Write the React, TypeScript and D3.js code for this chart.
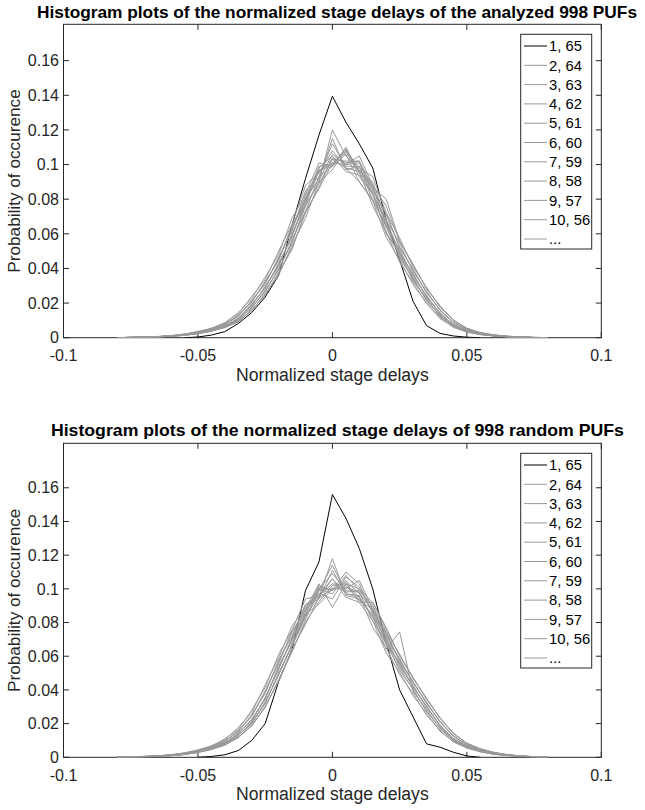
import React from "react";
import * as d3 from "d3";

// ---------- data ----------
const binsX = [-0.08, -0.075, -0.07, -0.065, -0.06, -0.055, -0.05, -0.045, -0.04, -0.035, -0.03, -0.025, -0.02, -0.015, -0.01, -0.005, 0, 0.005, 0.01, 0.015, 0.02, 0.025, 0.03, 0.035, 0.04, 0.045, 0.05, 0.055, 0.06, 0.065, 0.07, 0.075, 0.08];

const blackTopX = [-0.055, -0.05, -0.045, -0.04, -0.035, -0.03, -0.025, -0.02, -0.015, -0.01, -0.005, 0, 0.005, 0.01, 0.015, 0.02, 0.025, 0.03, 0.035, 0.04, 0.045, 0.05, 0.055];
const blackTopY = [0, 0.0004, 0.0015, 0.0035, 0.0082, 0.0145, 0.0235, 0.036, 0.065, 0.092, 0.117, 0.1395, 0.1245, 0.112, 0.098, 0.068, 0.045, 0.021, 0.007, 0.0025, 0.001, 0.0003, 0];

const blackBottomX = [-0.05, -0.045, -0.04, -0.035, -0.03, -0.025, -0.02, -0.015, -0.01, -0.005, 0, 0.005, 0.01, 0.015, 0.02, 0.025, 0.03, 0.035, 0.04, 0.045, 0.05, 0.055];
const blackBottomY = [0, 0.0005, 0.0015, 0.004, 0.01, 0.02, 0.045, 0.064, 0.099, 0.116, 0.156, 0.142, 0.124, 0.1, 0.068, 0.04, 0.024, 0.008, 0.006, 0.003, 0.0008, 0];

const greyTop1 = [0, 0.0002, 0.0004, 0.0007, 0.0012, 0.0022, 0.0033, 0.0056, 0.0083, 0.0146, 0.0225, 0.035, 0.048, 0.069, 0.083, 0.101, 0.099, 0.106, 0.09, 0.079, 0.058, 0.045, 0.0305, 0.0205, 0.011, 0.0063, 0.0031, 0.0019, 0.0009, 0.0005, 0.0002, 0.0001, 0];
const greyTop2 = [0.0001, 0.0002, 0.0003, 0.0007, 0.0011, 0.002, 0.0037, 0.0052, 0.0088, 0.0138, 0.0238, 0.0335, 0.05, 0.0655, 0.088, 0.095, 0.108, 0.098, 0.096, 0.076, 0.061, 0.0435, 0.032, 0.0195, 0.0118, 0.0059, 0.0035, 0.0017, 0.0011, 0.0006, 0.0003, 0.0001, 0];
const greyTop3 = [0, 0.0001, 0.0004, 0.0006, 0.0011, 0.0018, 0.003, 0.0051, 0.0075, 0.013, 0.0205, 0.0325, 0.0445, 0.065, 0.08, 0.099, 0.1, 0.109, 0.093, 0.083, 0.061, 0.048, 0.033, 0.0225, 0.0124, 0.007, 0.0036, 0.0021, 0.001, 0.0006, 0.0002, 0, 0];
const greyTop4 = [0, 0.0003, 0.0003, 0.0005, 0.001, 0.002, 0.0034, 0.0048, 0.008, 0.0122, 0.0215, 0.0308, 0.0465, 0.0615, 0.085, 0.093, 0.112, 0.099, 0.099, 0.079, 0.065, 0.046, 0.0345, 0.0215, 0.013, 0.0066, 0.0038, 0.0019, 0.0012, 0.0005, 0.0003, 0.0001, 0];
const greyTop5 = [0, 0.0002, 0.0003, 0.0006, 0.0009, 0.0019, 0.0031, 0.005, 0.0078, 0.0128, 0.0208, 0.032, 0.045, 0.064, 0.079, 0.098, 0.105, 0.096, 0.094, 0.084, 0.06, 0.049, 0.0328, 0.0228, 0.0122, 0.0069, 0.0036, 0.002, 0.0011, 0.0006, 0.0003, 0.0001, 0];
const greyTop6 = [0, 0.0002, 0.0002, 0.0006, 0.001, 0.0017, 0.0029, 0.0043, 0.007, 0.0108, 0.0195, 0.0285, 0.043, 0.058, 0.081, 0.091, 0.106, 0.1, 0.101, 0.083, 0.068, 0.049, 0.037, 0.0235, 0.0145, 0.0073, 0.0041, 0.0022, 0.0012, 0.0006, 0.0003, 0.0001, 0];
const greyTop7 = [0, 0.0001, 0.0003, 0.0005, 0.0011, 0.0016, 0.0027, 0.0046, 0.0066, 0.0113, 0.0185, 0.0296, 0.0412, 0.06, 0.077, 0.097, 0.099, 0.11, 0.095, 0.087, 0.064, 0.051, 0.035, 0.0245, 0.0136, 0.0078, 0.0039, 0.0023, 0.0012, 0.0007, 0.0002, 0.0001, 0];
const greyTop8 = [0, 0.0002, 0.0003, 0.0006, 0.001, 0.0018, 0.0028, 0.0044, 0.0069, 0.0109, 0.0192, 0.0288, 0.0425, 0.0585, 0.08, 0.092, 0.115, 0.097, 0.099, 0.082, 0.067, 0.0485, 0.0365, 0.0238, 0.0142, 0.0074, 0.004, 0.0022, 0.0012, 0.0006, 0.0003, 0.0001, 0];
const greyTop9 = [0, 0.0002, 0.0003, 0.0006, 0.001, 0.0017, 0.0028, 0.0045, 0.0067, 0.0111, 0.0188, 0.0292, 0.0418, 0.0595, 0.078, 0.096, 0.101, 0.107, 0.096, 0.088, 0.065, 0.0505, 0.0355, 0.0242, 0.0139, 0.0076, 0.004, 0.0022, 0.0012, 0.0006, 0.0003, 0.0001, 0];
const greyTop10 = [0, 0.0001, 0.0003, 0.0005, 0.0009, 0.0016, 0.0025, 0.0041, 0.0065, 0.01, 0.0178, 0.0265, 0.04, 0.055, 0.077, 0.089, 0.103, 0.102, 0.102, 0.085, 0.072, 0.052, 0.0395, 0.026, 0.0163, 0.0087, 0.0048, 0.0026, 0.0014, 0.0008, 0.0004, 0.0001, 0];
const greyTop11 = [0, 0.0002, 0.0002, 0.0005, 0.0009, 0.0015, 0.0027, 0.0043, 0.0062, 0.0104, 0.017, 0.0275, 0.0388, 0.0565, 0.073, 0.093, 0.099, 0.109, 0.096, 0.09, 0.068, 0.0545, 0.038, 0.027, 0.0157, 0.009, 0.0046, 0.0027, 0.0014, 0.0007, 0.0003, 0.0002, 0];
const greyTop12 = [0, 0.0001, 0.0003, 0.0006, 0.0009, 0.0016, 0.0026, 0.0042, 0.0064, 0.0101, 0.0176, 0.0268, 0.0398, 0.0548, 0.076, 0.09, 0.12, 0.105, 0.097, 0.086, 0.071, 0.0525, 0.0392, 0.0262, 0.0161, 0.0088, 0.0047, 0.0026, 0.0014, 0.0008, 0.0003, 0.0001, 0];
const greyTop13 = [0, 0.0001, 0.0002, 0.0004, 0.0008, 0.0014, 0.0024, 0.0037, 0.006, 0.009, 0.0162, 0.0245, 0.0375, 0.051, 0.073, 0.086, 0.101, 0.1, 0.105, 0.088, 0.076, 0.0555, 0.0425, 0.0283, 0.0185, 0.0099, 0.0055, 0.0029, 0.0016, 0.0009, 0.0004, 0.0002, 0];
const greyTop14 = [0, 0.0001, 0.0002, 0.0005, 0.0008, 0.0013, 0.0024, 0.0039, 0.0058, 0.0095, 0.0155, 0.0255, 0.036, 0.0535, 0.069, 0.09, 0.097, 0.108, 0.098, 0.093, 0.072, 0.0575, 0.0408, 0.0292, 0.0176, 0.0103, 0.0053, 0.003, 0.0016, 0.0008, 0.0004, 0.0001, 0];
const greyTop15 = [0, 0.0001, 0.0003, 0.0004, 0.0008, 0.0014, 0.0023, 0.0038, 0.006, 0.0092, 0.016, 0.0248, 0.0372, 0.0518, 0.072, 0.087, 0.104, 0.101, 0.102, 0.087, 0.08, 0.056, 0.042, 0.0286, 0.0182, 0.01, 0.0054, 0.0029, 0.0016, 0.0009, 0.0004, 0.0002, 0];
const greyTop16 = [0, 0.0002, 0.0004, 0.0006, 0.0011, 0.0019, 0.0032, 0.005, 0.0077, 0.0126, 0.0212, 0.0318, 0.0458, 0.0625, 0.082, 0.096, 0.103, 0.098, 0.09, 0.08, 0.064, 0.047, 0.0338, 0.0218, 0.0127, 0.0068, 0.0037, 0.002, 0.0011, 0.0005, 0.0002, 0.0001, 0];

const greyBottom1 = [0.0001, 0.0003, 0.0005, 0.0009, 0.0015, 0.0027, 0.0041, 0.0069, 0.0104, 0.0178, 0.0265, 0.043, 0.059, 0.078, 0.089, 0.101, 0.099, 0.104, 0.092, 0.081, 0.062, 0.0505, 0.0365, 0.0262, 0.0155, 0.0094, 0.0054, 0.0034, 0.0017, 0.001, 0.0005, 0.0002, 0.0001];
const greyBottom2 = [0.0001, 0.0002, 0.0006, 0.0008, 0.0016, 0.0025, 0.0045, 0.0065, 0.011, 0.0166, 0.028, 0.0415, 0.061, 0.0755, 0.094, 0.096, 0.106, 0.097, 0.096, 0.077, 0.065, 0.049, 0.038, 0.025, 0.0162, 0.009, 0.0057, 0.0032, 0.0019, 0.0011, 0.0005, 0.0003, 0.0001];
const greyBottom3 = [0.0001, 0.0002, 0.0005, 0.0008, 0.0013, 0.0024, 0.0038, 0.0063, 0.0093, 0.016, 0.024, 0.0395, 0.0555, 0.075, 0.087, 0.1, 0.109, 0.099, 0.098, 0.081, 0.068, 0.0515, 0.0405, 0.0272, 0.0178, 0.0099, 0.0062, 0.0036, 0.0021, 0.0012, 0.0006, 0.0003, 0.0001];
const greyBottom4 = [0.0001, 0.0003, 0.0004, 0.0009, 0.0014, 0.0022, 0.004, 0.0059, 0.0099, 0.015, 0.0252, 0.0378, 0.0575, 0.072, 0.091, 0.095, 0.118, 0.096, 0.094, 0.084, 0.064, 0.0745, 0.039, 0.0285, 0.017, 0.0103, 0.0058, 0.0038, 0.0019, 0.0011, 0.0006, 0.0003, 0.0001];
const greyBottom5 = [0.0001, 0.0002, 0.0005, 0.0008, 0.0014, 0.0023, 0.0037, 0.0062, 0.0095, 0.0158, 0.025, 0.039, 0.057, 0.074, 0.088, 0.103, 0.089, 0.103, 0.095, 0.083, 0.067, 0.053, 0.04, 0.0275, 0.0176, 0.01, 0.0061, 0.0037, 0.002, 0.0012, 0.0006, 0.0002, 0];
const greyBottom6 = [0.0001, 0.0002, 0.0004, 0.0007, 0.0012, 0.002, 0.0036, 0.0054, 0.0087, 0.0138, 0.0225, 0.0345, 0.054, 0.069, 0.086, 0.099, 0.1, 0.105, 0.097, 0.088, 0.068, 0.056, 0.0415, 0.0305, 0.0188, 0.0112, 0.0064, 0.0041, 0.0022, 0.0012, 0.0006, 0.0003, 0.0001];
const greyBottom7 = [0.0001, 0.0003, 0.0004, 0.0007, 0.0012, 0.0021, 0.0034, 0.0056, 0.0083, 0.0144, 0.0215, 0.0355, 0.052, 0.071, 0.09, 0.094, 0.111, 0.097, 0.095, 0.084, 0.071, 0.054, 0.0428, 0.0295, 0.0193, 0.0107, 0.0067, 0.0039, 0.0023, 0.0013, 0.0006, 0.0003, 0.0001];
const greyBottom8 = [0.0001, 0.0002, 0.0004, 0.0007, 0.0011, 0.0019, 0.0035, 0.0055, 0.0086, 0.0141, 0.0222, 0.0348, 0.0535, 0.07, 0.085, 0.102, 0.099, 0.11, 0.103, 0.085, 0.069, 0.055, 0.0418, 0.0302, 0.0189, 0.0111, 0.0066, 0.004, 0.0022, 0.0012, 0.0006, 0.0003, 0.0001];
const greyBottom9 = [0.0001, 0.0002, 0.0004, 0.0007, 0.0012, 0.002, 0.0035, 0.0055, 0.0085, 0.0139, 0.022, 0.0352, 0.0528, 0.0705, 0.0875, 0.096, 0.103, 0.102, 0.093, 0.088, 0.067, 0.056, 0.0422, 0.03, 0.0191, 0.0109, 0.0065, 0.004, 0.0022, 0.0012, 0.0006, 0.0003, 0.0001];
const greyBottom10 = [0.0001, 0.0002, 0.0004, 0.0006, 0.0011, 0.0019, 0.0031, 0.0052, 0.0078, 0.0131, 0.02, 0.033, 0.0488, 0.0672, 0.084, 0.0975, 0.094, 0.107, 0.101, 0.086, 0.074, 0.0575, 0.045, 0.032, 0.0214, 0.0127, 0.0075, 0.0045, 0.0026, 0.0014, 0.0007, 0.0003, 0.0001];
const greyBottom11 = [0.0001, 0.0001, 0.0003, 0.0006, 0.001, 0.0018, 0.0033, 0.005, 0.008, 0.0127, 0.0208, 0.0318, 0.05, 0.066, 0.083, 0.099, 0.114, 0.098, 0.099, 0.09, 0.07, 0.0585, 0.0442, 0.0328, 0.021, 0.0125, 0.0073, 0.0046, 0.0026, 0.0014, 0.0007, 0.0004, 0.0001];
const greyBottom12 = [0.0001, 0.0002, 0.0003, 0.0006, 0.0011, 0.0019, 0.0032, 0.0051, 0.0079, 0.013, 0.0202, 0.0326, 0.049, 0.067, 0.0845, 0.0945, 0.1, 0.1, 0.105, 0.088, 0.073, 0.057, 0.0448, 0.0322, 0.0213, 0.0126, 0.0074, 0.0045, 0.0026, 0.0014, 0.0007, 0.0003, 0.0001];
const greyBottom13 = [0, 0.0001, 0.0003, 0.0005, 0.001, 0.0017, 0.0029, 0.0046, 0.0072, 0.012, 0.0185, 0.0302, 0.0455, 0.064, 0.079, 0.095, 0.106, 0.095, 0.092, 0.092, 0.077, 0.06, 0.0475, 0.0345, 0.0236, 0.014, 0.0084, 0.005, 0.0029, 0.0016, 0.0008, 0.0004, 0.0002];
const greyBottom14 = [0, 0.0001, 0.0003, 0.0005, 0.0009, 0.0016, 0.003, 0.0048, 0.0074, 0.0116, 0.0192, 0.0295, 0.0462, 0.0625, 0.0815, 0.1, 0.097, 0.108, 0.099, 0.09, 0.0745, 0.0612, 0.0468, 0.0352, 0.0232, 0.0144, 0.0082, 0.0051, 0.0029, 0.0016, 0.0008, 0.0004, 0.0001];
const greyBottom15 = [0.0001, 0.0001, 0.0003, 0.0005, 0.001, 0.0017, 0.0028, 0.0047, 0.0073, 0.0118, 0.0187, 0.03, 0.0452, 0.0635, 0.08, 0.0925, 0.102, 0.103, 0.1, 0.092, 0.076, 0.0605, 0.0472, 0.0346, 0.0235, 0.0141, 0.0083, 0.005, 0.0029, 0.0015, 0.0008, 0.0003, 0.0001];
const greyBottom16 = [0.0001, 0.0002, 0.0004, 0.0006, 0.0011, 0.0019, 0.0032, 0.0051, 0.0079, 0.0129, 0.0205, 0.0322, 0.0496, 0.0662, 0.085, 0.091, 0.1, 0.101, 0.098, 0.087, 0.072, 0.058, 0.0446, 0.0324, 0.0212, 0.0126, 0.0074, 0.0045, 0.0026, 0.0014, 0.0007, 0.0003, 0.0001];

const greyTopSeries = [greyTop1, greyTop2, greyTop3, greyTop4, greyTop5, greyTop6, greyTop7, greyTop8, greyTop9, greyTop10, greyTop11, greyTop12, greyTop13, greyTop14, greyTop15, greyTop16];
const greyBottomSeries = [greyBottom1, greyBottom2, greyBottom3, greyBottom4, greyBottom5, greyBottom6, greyBottom7, greyBottom8, greyBottom9, greyBottom10, greyBottom11, greyBottom12, greyBottom13, greyBottom14, greyBottom15, greyBottom16];

const xTicks = [-0.1, -0.05, 0, 0.05, 0.1];
const xTickLabels = ["-0.1", "-0.05", "0", "0.05", "0.1"];
const yTicks = [0, 0.02, 0.04, 0.06, 0.08, 0.1, 0.12, 0.14, 0.16];
const yTickLabels = ["0", "0.02", "0.04", "0.06", "0.08", "0.1", "0.12", "0.14", "0.16"];
const legendLabels = ["1, 65", "2, 64", "3, 63", "4, 62", "5, 61", "6, 60", "7, 59", "8, 58", "9, 57", "10, 56", "..."];

const titleTop = "Histogram plots of the normalized stage delays of the analyzed 998 PUFs";
const titleBottom = "Histogram plots of the normalized stage delays of 998 random PUFs";
const xLabel = "Normalized stage delays";
const yLabel = "Probability of occurence";

// ---------- drawing ----------
const FONT = "'Liberation Sans', Arial, Helvetica, sans-serif";
const AX = "#262626";
const GREY = "#999999";
const LEFT = 63.5;
const RIGHT = 601.3;

type PanelProps = {
  id: string;
  title: string;
  titleX: number;
  titleY: number;
  titleLen: number;
  top: number;
  bottom: number;
  yMax: number;
  blackX: number[];
  blackY: number[];
  greys: number[][];
  legendTop: number;
};

function Panel(p: PanelProps) {
  const x = d3.scaleLinear().domain([-0.1, 0.1]).range([LEFT, RIGHT]);
  const y = d3.scaleLinear().domain([0, p.yMax]).range([p.bottom, p.top]);
  const line = d3
    .line<[number, number]>()
    .x((d) => x(d[0]))
    .y((d) => y(d[1]));
  const tickLen = 5.5;
  const cx = (LEFT + RIGHT) / 2;
  const legL = 520.7;
  const legR = 591.7;
  const rowH = 19.3;
  const legH = 214.7;

  return (
    <g>
      <defs>
        <clipPath id={`clip-${p.id}`}>
          <rect x={LEFT} y={p.top} width={RIGHT - LEFT} height={p.bottom - p.top} />
        </clipPath>
      </defs>
      <rect x={LEFT} y={p.top} width={RIGHT - LEFT} height={p.bottom - p.top} fill="#fff" stroke={AX} strokeWidth={1} />
      {xTicks.map((t, i) => (
        <g key={`xt${i}`}>
          <line x1={x(t)} x2={x(t)} y1={p.bottom} y2={p.bottom - tickLen} stroke={AX} />
          <line x1={x(t)} x2={x(t)} y1={p.top} y2={p.top + tickLen} stroke={AX} />
          <text x={x(t)} y={p.bottom + 23.7} textAnchor="middle" fontSize={16} fill={AX} fontFamily={FONT}>
            {xTickLabels[i]}
          </text>
        </g>
      ))}
      {yTicks.map((t, i) => (
        <g key={`yt${i}`}>
          <line x1={LEFT} x2={LEFT + tickLen} y1={y(t)} y2={y(t)} stroke={AX} />
          <line x1={RIGHT} x2={RIGHT - tickLen} y1={y(t)} y2={y(t)} stroke={AX} />
          <text x={59} y={y(t) + 5.7} textAnchor="end" fontSize={16} fill={AX} fontFamily={FONT}>
            {yTickLabels[i]}
          </text>
        </g>
      ))}
      <g clipPath={`url(#clip-${p.id})`} fill="none">
        <path d={line(p.blackX.map((v, i) => [v, p.blackY[i]]) as [number, number][]) || ""} stroke="#000" strokeWidth={1} />
        {p.greys.map((s, k) => (
          <path key={k} d={line(binsX.map((v, i) => [v, s[i]]) as [number, number][]) || ""} stroke={GREY} strokeWidth={1} />
        ))}
      </g>
      <text
        x={p.titleX}
        y={p.titleY}
        textAnchor="middle"
        fontSize={17}
        fontWeight="bold"
        fill="#000"
        fontFamily={FONT}
        textLength={p.titleLen}
        lengthAdjust="spacingAndGlyphs"
      >
        {p.title}
      </text>
      <text x={cx} y={p.bottom + 43} textAnchor="middle" fontSize={17.6} fill={AX} fontFamily={FONT}>
        {xLabel}
      </text>
      <text
        transform={`translate(19.5, ${(p.top + p.bottom) / 2}) rotate(-90)`}
        textAnchor="middle"
        fontSize={17.2}
        fill={AX}
        fontFamily={FONT}
      >
        {yLabel}
      </text>
      <rect x={legL} y={p.legendTop} width={legR - legL} height={legH} fill="#fff" stroke={AX} strokeWidth={1} />
      {legendLabels.map((lab, i) => {
        const ry = p.legendTop + 11.7 + i * rowH;
        return (
          <g key={`lg${i}`}>
            <line x1={524} x2={547} y1={ry} y2={ry} stroke={i === 0 ? "#000" : GREY} strokeWidth={1} />
            <text x={549} y={ry + 5.2} fontSize={14.8} fill="#000" fontFamily={FONT}>
              {lab}
            </text>
          </g>
        );
      })}
    </g>
  );
}

export default function App() {
  return (
    <svg
      width={645}
      height={810}
      viewBox="0 0 645 810"
      style={{ position: "absolute", left: 0, top: 0, background: "#fff" }}
    >
      <rect x={0} y={0} width={645} height={810} fill="#fff" />
      <Panel
        id="top"
        title={titleTop}
        titleX={337}
        titleY={18}
        titleLen={600}
        top={24.3}
        bottom={337.7}
        yMax={0.181}
        blackX={blackTopX}
        blackY={blackTopY}
        greys={greyTopSeries}
        legendTop={34.3}
      />
      <Panel
        id="bottom"
        title={titleBottom}
        titleX={337.4}
        titleY={436}
        titleLen={573}
        top={443.3}
        bottom={757.3}
        yMax={0.1864}
        blackX={blackBottomX}
        blackY={blackBottomY}
        greys={greyBottomSeries}
        legendTop={453.3}
      />
    </svg>
  );
}
